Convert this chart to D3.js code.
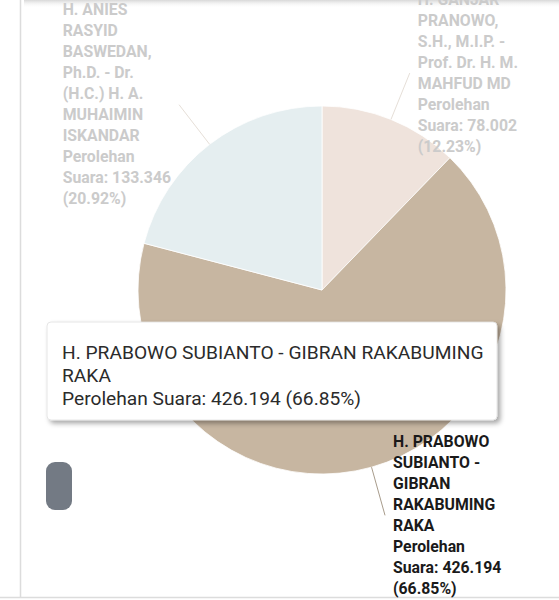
<!DOCTYPE html>
<html><head><meta charset="utf-8">
<script src="https://cdn.jsdelivr.net/npm/d3@7"></script>
<style>
html,body{margin:0;padding:0;background:#fff;}
svg{display:block;font-family:Roboto,"Noto Sans",sans-serif;}
</style></head>
<body>
<svg id="chart" width="559" height="600"></svg>
<script>
// Data (clockwise from the top)
const candidates = [
  ["H. GANJAR", "PRANOWO,", "S.H., M.I.P. -", "Prof. Dr. H. M.", "MAHFUD MD"],
  ["H. PRABOWO", "SUBIANTO -", "GIBRAN", "RAKABUMING", "RAKA"],
  ["H. ANIES", "RASYID", "BASWEDAN,", "Ph.D. - Dr.", "(H.C.) H. A.", "MUHAIMIN", "ISKANDAR"]
];
const votes = [78002, 426194, 133346];
const votesText = ["78.002", "426.194", "133.346"];
const percentText = ["12.23%", "66.85%", "20.92%"];
const colors = ["#efe3dc", "#c7b6a1", "#e5eef0"];
const tooltipLines = ["H. PRABOWO SUBIANTO - GIBRAN RAKABUMING", "RAKA", "Perolehan Suara: 426.194 (66.85%)"];
const activeIndex = 1;

const svg = d3.select("#chart");
const defs = svg.append("defs");
const topShadow = defs.append("linearGradient").attr("id","topShadow").attr("x1",0).attr("y1",0).attr("x2",0).attr("y2",1);
topShadow.append("stop").attr("offset","0%").attr("stop-color","#d8d8d8");
topShadow.append("stop").attr("offset","100%").attr("stop-color","#ffffff").attr("stop-opacity",0);
const filt = defs.append("filter").attr("id","tipShadow").attr("x","-10%").attr("y","-20%").attr("width","125%").attr("height","150%");
filt.append("feDropShadow").attr("dx",3).attr("dy",3).attr("stdDeviation",2.5).attr("flood-color","#000").attr("flood-opacity",0.35);

// frame
svg.append("rect").attr("x",24).attr("y",0).attr("width",535).attr("height",8).attr("fill","url(#topShadow)");
svg.append("line").attr("x1",20.5).attr("x2",20.5).attr("y1",0).attr("y2",597).attr("stroke","#dcdcdc").attr("stroke-width",1.5);
svg.append("line").attr("x1",0).attr("x2",559).attr("y1",597.5).attr("y2",597.5).attr("stroke","#dcdcdc").attr("stroke-width",1.5);

const cx = 322, cy = 290, r = 184;
const g = svg.append("g").attr("transform",`translate(${cx},${cy})`);
const pie = d3.pie().sort(null).value(d => d);
const arcs = pie(votes);
const arc = d3.arc().innerRadius(0).outerRadius(r);

g.selectAll("path.slice").data(arcs).enter().append("path")
  .attr("class","slice")
  .attr("d", arc)
  .attr("fill",(d,i)=>colors[i])
  .attr("stroke","#ffffff").attr("stroke-width",0.8);

// connectors and labels
const lineH = 21;
arcs.forEach((d,i)=>{
  const a = (d.startAngle + d.endAngle)/2;
  const r0 = r, r1 = r + 50;
  const x0 = Math.sin(a)*r0, y0 = -Math.cos(a)*r0;
  const x1 = Math.sin(a)*r1, y1 = -Math.cos(a)*r1;
  const active = i === activeIndex;
  g.append("line").attr("x1",x0).attr("y1",y0).attr("x2",x1).attr("y2",y1)
    .attr("stroke", active ? "#a89c8c" : "#e6dfd8").attr("stroke-width",1);
  const lines = candidates[i].concat(["Perolehan", "Suara: " + votesText[i], "(" + percentText[i] + ")"]);
  const right = x1 >= 0;
  const t = g.append("text")
    .attr("font-size","15.8px").attr("font-weight","bold")
    .attr("fill", active ? "#1a1a1a" : "#cbcbcb");
  lines.forEach((s,k)=>{
    t.append("tspan").attr("x",0).attr("y", k*lineH).text(s);
  });
  const bw = t.node().getBBox().width;
  const blockH = (lines.length-1)*lineH;
  const tx = right ? x1 + 8 : x1 - 8 - bw;
  const ty = y1 - blockH/2 + 5;
  t.attr("transform",`translate(${tx},${ty})`);
});

// scrollbar-like handle
svg.append("rect").attr("x",46).attr("y",462).attr("width",26).attr("height",48).attr("rx",9)
  .attr("fill","#737a84");

// tooltip
const tip = svg.append("g");
tip.append("rect").attr("x",47).attr("y",322).attr("width",450).attr("height",98).attr("rx",4)
  .attr("fill","#ffffff").attr("stroke","#e0e0e0").attr("stroke-width",0.8).attr("filter","url(#tipShadow)");
const tt = tip.append("text").attr("font-size","19.2px").attr("fill","#2b2b2b");
const tipY = [359, 382, 405];
tooltipLines.forEach((s,k)=>{
  tt.append("tspan").attr("x",62).attr("y",tipY[k]).text(s);
});
</script>
</body></html>
